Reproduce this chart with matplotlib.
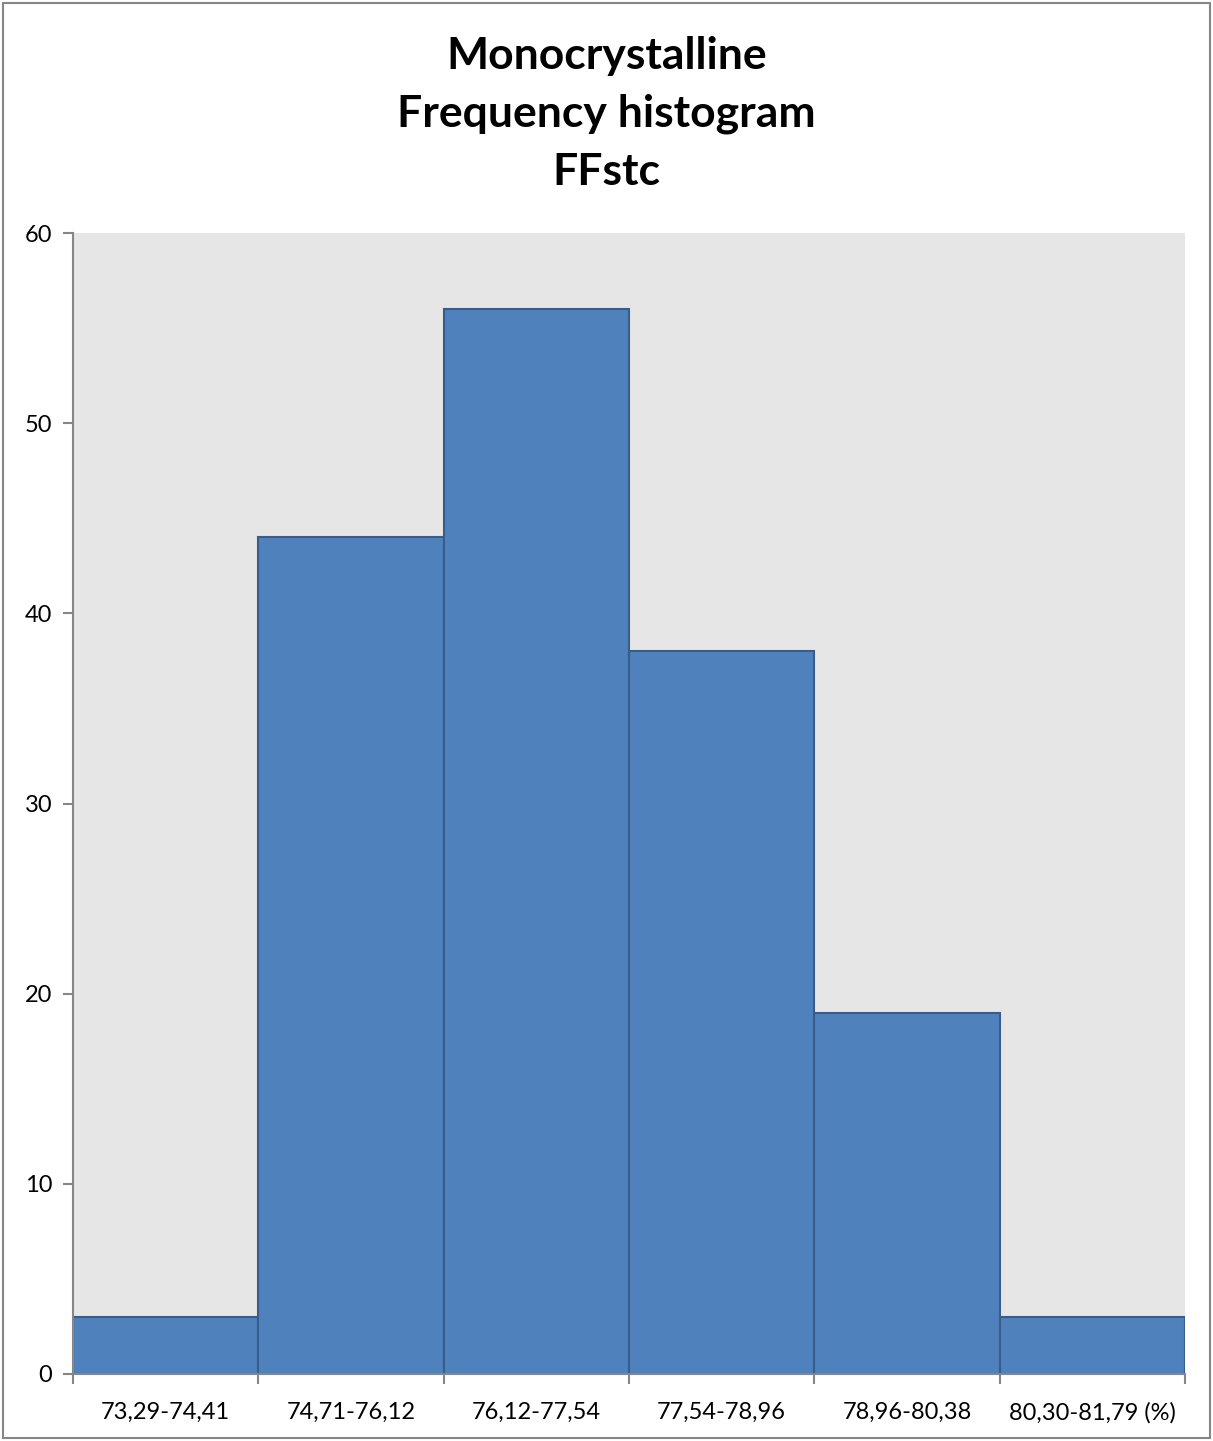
import numpy as np
import matplotlib.pyplot as plt
from matplotlib.patches import Rectangle

# Datos del histograma
bins = ["73,29-74,41", "74,71-76,12", "76,12-77,54", "77,54-78,96", "78,96-80,38", "80,30-81,79 (%)"]
freq = [3, 44, 56, 38, 19, 3]
yticks = [0, 10, 20, 30, 40, 50, 60]

plt.rcParams['font.family'] = ['Lato', 'DejaVu Sans']

fig = plt.figure(figsize=(12.13, 14.41), dpi=100)
ax = fig.add_axes([73/1213, 67/1441, 1112/1213, 1141/1441])

x = np.arange(len(freq))
ax.bar(x, freq, width=1.0, color='#4f81bd', edgecolor='#385d8a', linewidth=1.5)

ax.set_facecolor('#e6e6e6')
ax.set_xlim(-0.5, len(freq) - 0.5)
ax.set_ylim(0, 60)
ax.set_yticks(yticks)
ax.set_xticks(x)
ax.set_xticklabels(bins)
ax.set_xticks(np.arange(len(freq) + 1) - 0.5, minor=True)

for s in ['top', 'right']:
    ax.spines[s].set_visible(False)
for s in ['left', 'bottom']:
    ax.spines[s].set_color('#868686')
    ax.spines[s].set_linewidth(1.5)

ax.tick_params(axis='y', length=7, width=1.5, color='#868686', labelsize=17, pad=8)
ax.tick_params(axis='x', which='major', length=0, labelsize=17, pad=20)
ax.tick_params(axis='x', which='minor', length=7, width=1.5, color='#868686')

fig.text(0.5, 1 - 114/1441, "Monocrystalline\nFrequency histogram\nFFstc",
         ha='center', va='center', fontsize=32, fontweight='bold', linespacing=1.55)

# Borde de la figura
fig.patches.append(Rectangle((3/1213, 3/1441), 1207/1213, 1435/1441, transform=fig.transFigure,
                             fill=False, edgecolor='#868686', linewidth=1.5))

fig.savefig('out.png', dpi=100)
